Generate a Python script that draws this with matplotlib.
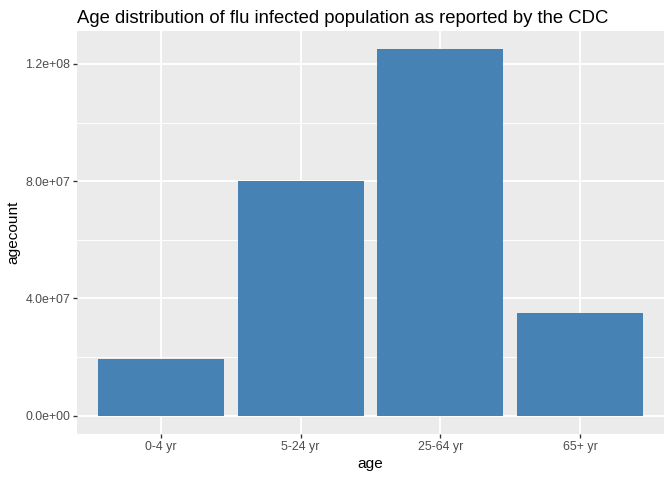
import matplotlib
matplotlib.use("Agg")
import matplotlib.pyplot as plt
from matplotlib.ticker import FixedLocator, FuncFormatter

# data
ages = ["0-4 yr", "5-24 yr", "25-64 yr", "65+ yr"]
agecount = [1.94e7, 8.0e7, 1.25e8, 3.5e7]
y_major = [0, 4e7, 8e7, 1.2e8]
y_minor = [2e7, 6e7, 1e8]

plt.rcParams['font.family'] = ['Liberation Sans', 'DejaVu Sans']

fig = plt.figure(figsize=(7, 5), dpi=96)
ax = fig.add_axes([77 / 672, 46 / 480, 587 / 672, 403 / 480])
ax.set_facecolor("#EBEBEB")

x = list(range(1, len(ages) + 1))
ax.bar(x, agecount, width=0.9, color="steelblue", zorder=3)

ax.set_xlim(0.4, len(ages) + 0.6)
ymax = max(agecount)
ax.set_ylim(-0.05 * ymax, 1.05 * ymax)

ax.xaxis.set_major_locator(FixedLocator(x))
ax.set_xticklabels(ages)
ax.yaxis.set_major_locator(FixedLocator(y_major))
ax.yaxis.set_minor_locator(FixedLocator(y_minor))
ax.yaxis.set_major_formatter(FuncFormatter(lambda v, p: f"{v:.1e}"))

ax.grid(which="major", color="white", linewidth=1.4, zorder=0)
ax.grid(which="minor", axis="y", color="white", linewidth=0.7, zorder=0)
ax.set_axisbelow(True)

for s in ax.spines.values():
    s.set_visible(False)

ax.tick_params(which="major", length=2.75, width=1.0, color="#333333",
               labelsize=9.3, labelcolor="#4D4D4D", pad=2.2)
ax.tick_params(which="minor", length=0)

ax.set_xlabel("age", fontsize=11.5, labelpad=3)
ax.set_ylabel("agecount", fontsize=11.5, labelpad=4)
ax.set_title("Age distribution of flu infected population as reported by the CDC",
             fontsize=13.9, loc="left", pad=6)

fig.savefig("out.png", dpi=96, facecolor="white")
